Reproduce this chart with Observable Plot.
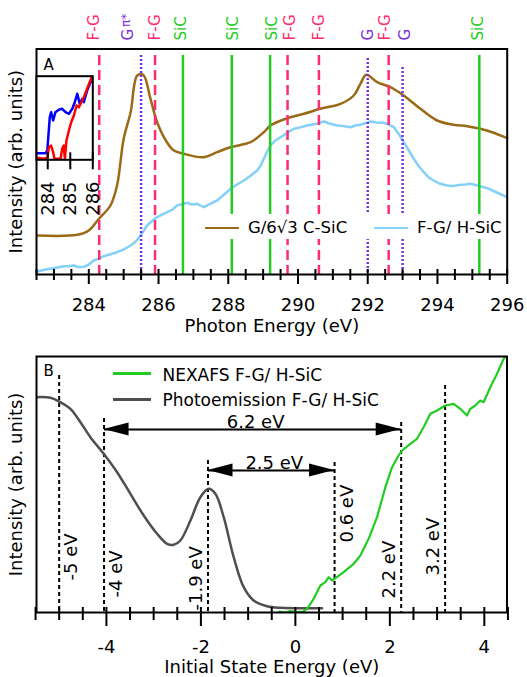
<!DOCTYPE html>
<html><head><meta charset="utf-8">
<script src="https://cdn.jsdelivr.net/npm/d3@7"></script>
<script src="https://cdn.jsdelivr.net/npm/@observablehq/plot@0.6"></script>
<style>
body{margin:0;background:#fff;font-family:"DejaVu Sans",sans-serif;}
#root{position:relative;width:527px;height:677px;overflow:hidden;background:#fff;}
#root svg{position:absolute;left:0;}
.leg{position:absolute;line-height:17px;white-space:nowrap;color:#000;font-family:"DejaVu Sans",sans-serif;}
.sw{position:absolute;}
</style></head><body><div id="root"></div>
<script>
// ---------- Panel A: NEXAFS spectra ----------
const cEnergy = [282.52,283.67,284.0,284.29,284.62,284.81,285.0,285.2,285.39,285.56,285.77,285.96,286.24,286.44,286.72,287.3,287.68,288.06,288.64,289.02,289.21,289.69,290.17,290.64,291.22,291.6,291.79,291.96,292.27,292.65,293.03,293.51,293.99,294.47,294.85,295.23,295.61,296.0];
const cIntensity = [39,39.7,44,55.7,69,89,135.7,162.3,199,199.7,175.7,152.3,132.3,124,120.7,117.3,122.3,127.3,132.3,142.3,149,156.3,160.7,165.7,170.7,179,190.7,199.7,192.3,187.3,179,165.7,154,149.7,148.3,145.7,141.7,136.3];
const fEnergy = [282.52,282.7,282.9,283.1,283.28,283.45,283.57,283.7,283.86,284.0,284.14,284.3,284.43,284.6,284.81,285.0,285.2,285.35,285.48,285.58,285.67,285.8,285.91,286.05,286.25,286.4,286.53,286.7,286.82,286.95,287.11,287.2,287.3,287.5,287.68,287.85,288.06,288.25,288.45,288.65,288.83,288.93,289.02,289.1,289.21,289.35,289.5,289.7,289.88,290.05,290.26,290.5,290.74,290.9,291.12,291.3,291.5,291.65,291.79,291.95,292.08,292.25,292.46,292.6,292.75,292.9,293.03,293.18,293.32,293.47,293.61,293.75,293.89,294.05,294.28,294.45,294.66,294.8,294.95,295.2,295.43,295.7,296.0];
const fIntensity = [3,4.5,5.7,7,8.3,8.5,9,7.5,7.7,10,14,16,18.3,20,22.3,25,29,33,39,44,49,53,56.3,59,62.3,65,69,70.5,71.7,70,70.7,69,67.3,71,74,79,85.7,90,94,99,104,109,115.7,122,129,134,137.3,142,145.7,147,149,150.5,153,151,149,148.5,147.3,149,149.7,151.5,153,152,151.7,150,147.3,140,132.3,124,115.7,108,102.3,97,94,91,89,88.5,89.7,90,90.7,88.5,86.3,82,77.3];
// inset (pre-edge region)
const insetBlueE = [283.53,283.9,283.98,284.09,284.15,284.24,284.34,284.49,284.64,284.79,284.94,285.09,285.2,285.31,285.42,285.53,285.6,285.75,285.9,286.0];
const insetBlueI = [6.6,6.6,9.3,42.6,47.6,39.3,47.6,50,51,47.6,46,51,57.6,66,56,61,57.6,69.3,77.6,79.3];
const insetRedE = [283.53,283.82,283.98,284.05,284.15,284.24,284.3,284.57,284.64,284.71,284.76,284.83,284.94,285.04,285.16,285.28,285.38,285.49,285.6,285.72,285.86,285.98];
const insetRedI = [2,1,2,12.6,14.3,7.6,1,1,11,14.3,1,19.3,29.3,37.6,44.3,54.3,52.6,57.6,62.6,69.3,77.6,84];
const insetTicks = [284,285,286];
// resonance reference lines
const refEnergy = [284.3,285.5,285.9,286.7,288.1,289.2,289.7,290.6,292.0,292.6,293.0,295.2];
const refLabel  = ["F-G","G","F-G","SiC","SiC","SiC","F-G","F-G","G","F-G","G","SiC"];
const refSup    = ["","π*","","","","","","","","","",""];
const refKind   = ["FG","G","FG","SiC","SiC","SiC","FG","FG","G","FG","G","SiC"];
const refTop    = [219,219,219,219,219,219,219,219,216,219,207,219];
const refNudgePx = [-5,-13,0,-2,1,2.5,3,0,0,-3,3,-1];
const ticksAMajor = [284,286,288,290,292,294,296];
const ticksAMinor = [282.5,283,283.5,284.5,285,285.5,286.5,287,287.5,288.5,289,289.5,290.5,291,291.5,292.5,293,293.5,294.5,295,295.5];

// ---------- Panel B: photoemission vs NEXAFS ----------
const peEnergy = [-5.467,-5.185,-4.974,-4.762,-4.55,-4.339,-4.057,-3.774,-3.492,-3.21,-2.927,-2.715,-2.576,-2.434,-2.222,-2.011,-1.835,-1.693,-1.517,-1.306,-1.094,-0.883,-0.599,-0.317,0.565];
const peIntensity = [215.3,214.7,210.3,203.7,190.3,175.3,158.7,140.3,118.7,97,78.7,68.7,67.7,72,92,115.3,123.7,118.7,95.3,55.3,25.3,12,6.3,4.7,4.3];
const nxEnergy = [-0.339,-0.212,-0.106,0.042,0.169,0.248,0.387,0.529,0.635,0.705,0.777,0.847,1.022,1.234,1.376,1.551,1.729,1.905,2.047,2.186,2.258,2.434,2.575,2.715,2.857,2.999,3.175,3.35,3.492,3.633,3.704,3.81,3.915,3.985,4.127,4.269,4.409,4.47];
const nxIntensity = [1,0,1.5,0.5,1,3.7,13.7,27,30.3,35.3,32,34.3,40.3,48.7,57,73.7,95.3,125.3,145.3,157,162,168.7,173.7,185.3,198.7,202,207,208.7,203.7,197,203.7,207,212,210.3,225.3,238.7,253.7,257];
const edgeEnergy = [-5,-4.05,-1.85,0.83,2.24,3.17];
const edgeLabel  = ["-5 eV","-4 eV","-1.9 eV","0.6 eV","2.2 eV","3.2 eV"];
const edgeTop    = [237,194,152,150,190,227];
const edgeLabelAt = [32,15,2,70,14,37];
const edgeSide   = ["right","right","left","right","left","left"];
const gapFrom  = [-4.05,-1.85];
const gapTo    = [2.24,0.83];
const gapLevel = [183,142];
const gapLabel = ["6.2 eV","2.5 eV"];
const ticksBMajor = [-4,-2,0,2,4];
const ticksBMinor = [-5.5,-5,-4.5,-3.5,-3,-2.5,-1.5,-1,-0.5,0.5,1,1.5,2.5,3,3.5,4.5];

// ---------- styles ----------
const BROWN="#9b6a16", SKY="#84d1f7", PINK="#ff2c70", PURPLE="#7b30e0", LIME="#22cc22", GRAY="#4f4f4f";
const W = 527;
const FONT = "DejaVu Sans";
const zip = (xs, ys) => xs.map((e, i) => ({e, v: ys[i]}));

const cData = zip(cEnergy, cIntensity), fData = zip(fEnergy, fIntensity);
const refs = refEnergy.map((e, i) => ({e, label: refLabel[i], sup: refSup[i], kind: refKind[i], top: refTop[i], nudge: refNudgePx[i]}));
const kindColor = {FG: PINK, G: PURPLE, SiC: LIME};
const pxPerEvA = (W - 20.3 - 36) / (296 - 282.5);

const root = document.getElementById("root");

// ---- Panel A ----
const aH = 340, aMT = 48.5, aMB = 66, aIn = aH - aMT - aMB;
const A = Plot.plot({
  width: W, height: aH, marginTop: aMT, marginBottom: aMB, marginLeft: 36, marginRight: 20.3,
  x: {domain: [282.5, 296], axis: null},
  y: {domain: [0, aIn], axis: null},
  color: {type: "identity"},
  style: {fontFamily: FONT, fontSize: "18px", background: "transparent", overflow: "visible"},
  marks: [
    Plot.line(cData, {x: "e", y: "v", stroke: BROWN, strokeWidth: 2.5, curve: "catmull-rom"}),
    Plot.line(fData, {x: "e", y: "v", stroke: SKY, strokeWidth: 2.5}),
    Plot.ruleX(refs.filter(d => d.kind === "SiC"), {x: "e", y1: "top", y2: 0, stroke: LIME, strokeWidth: 2.5}),
    Plot.ruleX(refs.filter(d => d.kind === "FG"), {x: "e", y1: "top", y2: 0, stroke: PINK, strokeWidth: 2.5, strokeDasharray: "10,5"}),
    Plot.ruleX(refs.filter(d => d.kind === "G"), {x: "e", y1: "top", y2: 0, stroke: PURPLE, strokeWidth: 2.5, strokeDasharray: "2,2"}),
    Plot.text(refs, {x: d => d.e + d.nudge / pxPerEvA, text: "label", fill: d => kindColor[d.kind], frameAnchor: "top", dy: -8.5, rotate: -90, textAnchor: "start", lineAnchor: "middle", fontSize: 15}),
    Plot.text(refs.filter(d => d.sup), {x: d => d.e + (d.nudge - 2) / pxPerEvA, text: "sup", fill: d => kindColor[d.kind], frameAnchor: "top", dy: -22, rotate: -90, textAnchor: "start", lineAnchor: "middle", fontSize: 12}),
    Plot.frame({stroke: "black", strokeWidth: 2}),
    Plot.tickX(ticksAMinor, {x: d => d, insetTop: aIn - 5, insetBottom: -6, stroke: "black", strokeWidth: 2}),
    Plot.tickX(ticksAMajor, {x: d => d, insetTop: aIn - 5, insetBottom: -10, stroke: "black", strokeWidth: 2}),
    Plot.text(ticksAMajor, {x: d => d, text: d => String(d), frameAnchor: "bottom", dy: 31, lineAnchor: "middle", textAnchor: "middle", fontSize: 18}),
    Plot.text(["Photon Energy (eV)"], {frameAnchor: "bottom", dy: 52, lineAnchor: "middle", textAnchor: "middle", fontSize: 18}),
    Plot.text(["Intensity (arb. units)"], {frameAnchor: "left", dx: -20.5, rotate: -90, lineAnchor: "middle", textAnchor: "middle", fontSize: 18}),
    Plot.text(["A"], {frameAnchor: "top-left", dx: 7, dy: 10.8, lineAnchor: "top", textAnchor: "start", fontSize: 15})
  ]
});
A.style.top = "0px";
root.appendChild(A);

// ---- inset ----
const iH = 230, iMT = 75.7, iMB = 230 - 159.3, iIn = iH - iMT - iMB;
const inset = Plot.plot({
  width: W, height: iH, marginTop: iMT, marginBottom: iMB, marginLeft: 36, marginRight: W - 92.3,
  x: {domain: [283.5, 286], axis: null},
  y: {domain: [0, iIn], axis: null},
  style: {fontFamily: FONT, fontSize: "18px", background: "transparent", overflow: "visible"},
  marks: [
    Plot.frame({fill: "white", stroke: null}),
    Plot.line(zip(insetBlueE, insetBlueI), {x: "e", y: "v", stroke: "#0000ff", strokeWidth: 2.5, clip: true}),
    Plot.line(zip(insetRedE, insetRedI), {x: "e", y: "v", stroke: "#ff0000", strokeWidth: 2.5, clip: true}),
    Plot.frame({stroke: "black", strokeWidth: 2}),
    Plot.tickX(insetTicks, {x: d => d, insetTop: iIn - 7, insetBottom: -10, stroke: "black", strokeWidth: 2}),
    Plot.text(insetTicks, {x: d => d, text: d => String(d), frameAnchor: "bottom", dy: 56, rotate: -90, textAnchor: "start", lineAnchor: "middle", fontSize: 18})
  ]
});
inset.style.top = "0px";
root.appendChild(inset);

// ---- Panel B ----
const bTop = 340, bH = 337, bMT = 16, bMB = 65, bIn = bH - bMT - bMB;
const edges = edgeEnergy.map((e, i) => ({e, label: edgeLabel[i], top: edgeTop[i], at: edgeLabelAt[i], side: edgeSide[i]}));
const gaps = gapFrom.map((x1, i) => ({x1, x2: gapTo[i], v: gapLevel[i], label: gapLabel[i], mid: (x1 + gapTo[i]) / 2}));
const B = Plot.plot({
  width: W, height: bH, marginTop: bMT, marginBottom: bMB, marginLeft: 36, marginRight: 20.5,
  x: {domain: [-5.48, 4.48], axis: null},
  y: {domain: [0, bIn], axis: null},
  style: {fontFamily: FONT, fontSize: "18px", background: "transparent", overflow: "visible"},
  marks: [
    Plot.ruleX(edges, {x: "e", y1: "top", y2: 0, stroke: "black", strokeWidth: 2, strokeDasharray: "4,3"}),
    Plot.line(zip(peEnergy, peIntensity), {x: "e", y: "v", stroke: GRAY, strokeWidth: 2.5, curve: "catmull-rom"}),
    Plot.line(zip(nxEnergy, nxIntensity), {x: "e", y: "v", stroke: LIME, strokeWidth: 2.2, clip: true}),
    Plot.text(edges.filter(d => d.side === "right"), {x: "e", y: "at", text: "label", dx: 12.5, rotate: -90, textAnchor: "start", lineAnchor: "middle", fontSize: 18}),
    Plot.text(edges.filter(d => d.side === "left"), {x: "e", y: "at", text: "label", dx: -11.5, rotate: -90, textAnchor: "start", lineAnchor: "middle", fontSize: 18}),
    Plot.link(gaps, {x1: "x1", x2: "x2", y1: "v", y2: "v", stroke: "black", strokeWidth: 2}),
    Plot.text(gaps, {x: "mid", y: "v", text: "label", dy: -2, dx: 3, lineAnchor: "bottom", textAnchor: "middle", fontSize: 18}),
    Plot.frame({stroke: "black", strokeWidth: 2}),
    Plot.tickX(ticksBMinor, {x: d => d, insetTop: bIn - 5, insetBottom: -8, stroke: "black", strokeWidth: 2}),
    Plot.tickX(ticksBMajor, {x: d => d, insetTop: bIn - 5, insetBottom: -14, stroke: "black", strokeWidth: 2}),
    Plot.text(ticksBMajor, {x: d => d, text: d => String(d), frameAnchor: "bottom", dy: 35, lineAnchor: "middle", textAnchor: "middle", fontSize: 18}),
    Plot.text(["Initial State Energy (eV)"], {frameAnchor: "bottom", dy: 54.5, lineAnchor: "middle", textAnchor: "middle", fontSize: 18}),
    Plot.text(["Intensity (arb. units)"], {frameAnchor: "left", dx: -20.5, rotate: -90, lineAnchor: "middle", textAnchor: "middle", fontSize: 18}),
    Plot.text(["B"], {frameAnchor: "top-left", dx: 7, dy: 8.4, lineAnchor: "top", textAnchor: "start", fontSize: 15})
  ]
});
B.style.top = bTop + "px";
root.appendChild(B);
// filled arrowheads, placed with the plot's own scales
{
  const sx = B.scale("x"), sy = B.scale("y");
  const g = d3.select(B).append("g").attr("fill", "black");
  const L = 25, R = 6.5;
  gaps.forEach(d => {
    const y = sy.apply(d.v), xa = sx.apply(d.x1), xb = sx.apply(d.x2);
    g.append("path").attr("d", `M${xa},${y}L${xa + L},${y - R}L${xa + L},${y + R}Z`);
    g.append("path").attr("d", `M${xb},${y}L${xb - L},${y - R}L${xb - L},${y + R}Z`);
  });
}

// ---- legends ----
function legendEntry(color, label, swLeft, swTop, swW, txtLeft, baseline, size) {
  const s = document.createElement("div");
  s.className = "sw";
  Object.assign(s.style, {left: swLeft + "px", top: swTop + "px", width: swW + "px", height: "2.6px", background: color});
  root.appendChild(s);
  const t = document.createElement("div");
  t.className = "leg";
  t.textContent = label;
  Object.assign(t.style, {left: txtLeft + "px", top: (baseline - 0.846 * size - (17 - size) / 2) + "px", fontSize: size + "px"});
  root.appendChild(t);
}
const bgA = document.createElement("div");
Object.assign(bgA.style, {position: "absolute", left: "198px", top: "213.5px", width: "303px", height: "25px", background: "white"});
root.appendChild(bgA);
legendEntry(BROWN, "G/6√3 C-SiC", 205, 226.7, 34, 248, 233.3, 16.5);
legendEntry(SKY, "F-G/ H-SiC", 374, 226.7, 34, 417, 233.3, 16.5);
legendEntry(LIME, "NEXAFS F-G/ H-SiC", 112.7, 372.3, 38.3, 162.5, 381, 17);
legendEntry(GRAY, "Photoemission F-G/ H-SiC", 112.7, 398, 38.3, 162.5, 406, 17);
</script></body></html>
